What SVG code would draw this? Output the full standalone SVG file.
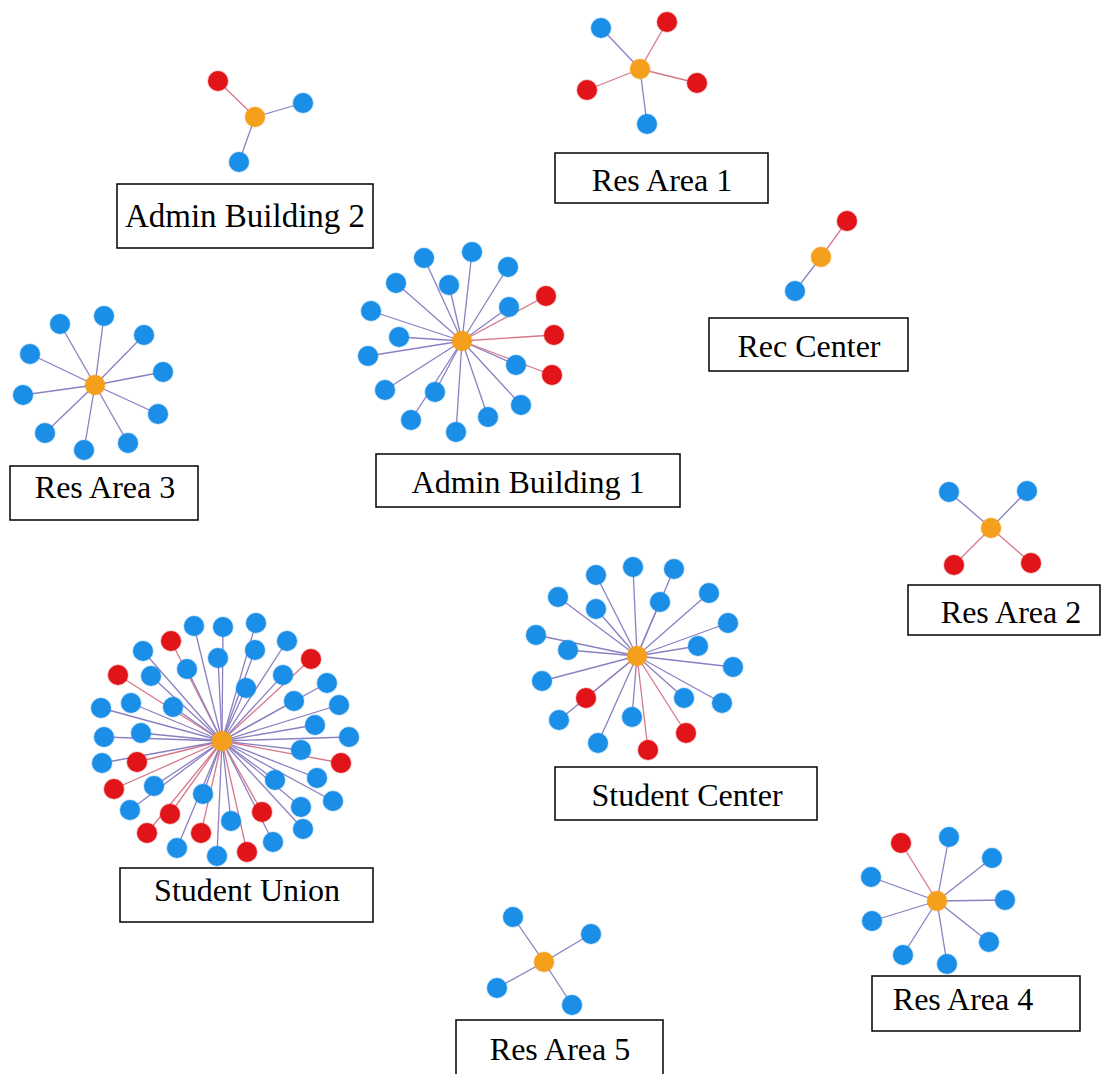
<svg xmlns="http://www.w3.org/2000/svg" width="1102" height="1074" viewBox="0 0 1102 1074">
<style>
.b{fill:#1b8fe8}
.r{fill:#e11419}
.o{fill:#f5a01c}
circle{stroke-width:1.5;stroke-opacity:0.25}
.b{stroke:#1b8fe8}
.r{stroke:#e11419}
.o{stroke:#f5a01c}
line{stroke-width:1.3}
.eb{stroke:#8a80c2}
.er{stroke:#d6788a}
.box{fill:#ffffff;stroke:#000000;stroke-width:1.5}
.lbl{font-family:"Liberation Serif","Times New Roman",serif;font-size:32px;fill:#000000;text-anchor:middle}
</style>
<rect width="1102" height="1074" fill="#ffffff"/>
<g id="connectors">
<!-- Admin Building 2 -->
<line class="er" x1="255" y1="117" x2="218" y2="81"/>
<line class="eb" x1="255" y1="117" x2="303" y2="103"/>
<line class="eb" x1="255" y1="117" x2="239" y2="162"/>
<!-- Res Area 1 -->
<line class="eb" x1="640" y1="69" x2="601" y2="28"/>
<line class="er" x1="640" y1="69" x2="667" y2="22"/>
<line class="er" x1="640" y1="69" x2="697" y2="83"/>
<line class="er" x1="640" y1="69" x2="587" y2="90"/>
<line class="eb" x1="640" y1="69" x2="647" y2="124"/>
<!-- Rec Center -->
<line class="er" x1="821" y1="257" x2="847" y2="221"/>
<line class="eb" x1="821" y1="257" x2="795" y2="291"/>
<!-- Res Area 3 -->
<line class="eb" x1="95" y1="385" x2="60" y2="324"/>
<line class="eb" x1="95" y1="385" x2="104" y2="316"/>
<line class="eb" x1="95" y1="385" x2="144" y2="335"/>
<line class="eb" x1="95" y1="385" x2="30" y2="354"/>
<line class="eb" x1="95" y1="385" x2="163" y2="372"/>
<line class="eb" x1="95" y1="385" x2="23" y2="395"/>
<line class="eb" x1="95" y1="385" x2="158" y2="414"/>
<line class="eb" x1="95" y1="385" x2="45" y2="433"/>
<line class="eb" x1="95" y1="385" x2="128" y2="443"/>
<line class="eb" x1="95" y1="385" x2="84" y2="450"/>
<!-- Admin Building 1 -->
<line class="eb" x1="462" y1="341" x2="424" y2="258"/>
<line class="eb" x1="462" y1="341" x2="472" y2="252"/>
<line class="eb" x1="462" y1="341" x2="508" y2="267"/>
<line class="eb" x1="462" y1="341" x2="396" y2="283"/>
<line class="eb" x1="462" y1="341" x2="449" y2="285"/>
<line class="er" x1="462" y1="341" x2="546" y2="296"/>
<line class="eb" x1="462" y1="341" x2="509" y2="307"/>
<line class="eb" x1="462" y1="341" x2="371" y2="311"/>
<line class="eb" x1="462" y1="341" x2="399" y2="337"/>
<line class="er" x1="462" y1="341" x2="554" y2="335"/>
<line class="eb" x1="462" y1="341" x2="368" y2="356"/>
<line class="eb" x1="462" y1="341" x2="516" y2="365"/>
<line class="er" x1="462" y1="341" x2="552" y2="375"/>
<line class="eb" x1="462" y1="341" x2="385" y2="390"/>
<line class="eb" x1="462" y1="341" x2="435" y2="392"/>
<line class="eb" x1="462" y1="341" x2="521" y2="405"/>
<line class="eb" x1="462" y1="341" x2="411" y2="420"/>
<line class="eb" x1="462" y1="341" x2="488" y2="417"/>
<line class="eb" x1="462" y1="341" x2="456" y2="432"/>
<!-- Res Area 2 -->
<line class="eb" x1="991" y1="528" x2="949" y2="492"/>
<line class="eb" x1="991" y1="528" x2="1027" y2="491"/>
<line class="er" x1="991" y1="528" x2="954" y2="565"/>
<line class="er" x1="991" y1="528" x2="1031" y2="563"/>
<!-- Student Center -->
<line class="eb" x1="637" y1="656" x2="596" y2="575"/>
<line class="eb" x1="637" y1="656" x2="633" y2="567"/>
<line class="eb" x1="637" y1="656" x2="674" y2="569"/>
<line class="eb" x1="637" y1="656" x2="558" y2="597"/>
<line class="eb" x1="637" y1="656" x2="596" y2="609"/>
<line class="eb" x1="637" y1="656" x2="660" y2="602"/>
<line class="eb" x1="637" y1="656" x2="709" y2="593"/>
<line class="eb" x1="637" y1="656" x2="728" y2="623"/>
<line class="eb" x1="637" y1="656" x2="536" y2="635"/>
<line class="eb" x1="637" y1="656" x2="568" y2="650"/>
<line class="eb" x1="637" y1="656" x2="698" y2="646"/>
<line class="eb" x1="637" y1="656" x2="733" y2="667"/>
<line class="eb" x1="637" y1="656" x2="542" y2="681"/>
<line class="er" x1="637" y1="656" x2="586" y2="698"/>
<line class="eb" x1="637" y1="656" x2="684" y2="698"/>
<line class="eb" x1="637" y1="656" x2="722" y2="703"/>
<line class="eb" x1="637" y1="656" x2="559" y2="720"/>
<line class="eb" x1="637" y1="656" x2="632" y2="717"/>
<line class="er" x1="637" y1="656" x2="686" y2="733"/>
<line class="eb" x1="637" y1="656" x2="598" y2="743"/>
<line class="er" x1="637" y1="656" x2="648" y2="750"/>
<!-- Student Union -->
<line class="eb" x1="222" y1="741" x2="194" y2="626"/>
<line class="eb" x1="222" y1="741" x2="223" y2="627"/>
<line class="eb" x1="222" y1="741" x2="256" y2="623"/>
<line class="er" x1="222" y1="741" x2="171" y2="641"/>
<line class="eb" x1="222" y1="741" x2="143" y2="651"/>
<line class="eb" x1="222" y1="741" x2="218" y2="658"/>
<line class="eb" x1="222" y1="741" x2="255" y2="650"/>
<line class="eb" x1="222" y1="741" x2="287" y2="641"/>
<line class="er" x1="222" y1="741" x2="311" y2="659"/>
<line class="eb" x1="222" y1="741" x2="187" y2="669"/>
<line class="eb" x1="222" y1="741" x2="151" y2="676"/>
<line class="er" x1="222" y1="741" x2="118" y2="675"/>
<line class="eb" x1="222" y1="741" x2="283" y2="675"/>
<line class="eb" x1="222" y1="741" x2="246" y2="688"/>
<line class="eb" x1="222" y1="741" x2="327" y2="683"/>
<line class="eb" x1="222" y1="741" x2="131" y2="703"/>
<line class="eb" x1="222" y1="741" x2="173" y2="707"/>
<line class="eb" x1="222" y1="741" x2="294" y2="701"/>
<line class="eb" x1="222" y1="741" x2="339" y2="705"/>
<line class="eb" x1="222" y1="741" x2="101" y2="708"/>
<line class="eb" x1="222" y1="741" x2="141" y2="733"/>
<line class="eb" x1="222" y1="741" x2="104" y2="737"/>
<line class="eb" x1="222" y1="741" x2="315" y2="725"/>
<line class="eb" x1="222" y1="741" x2="349" y2="737"/>
<line class="eb" x1="222" y1="741" x2="301" y2="750"/>
<line class="er" x1="222" y1="741" x2="137" y2="762"/>
<line class="eb" x1="222" y1="741" x2="102" y2="763"/>
<line class="er" x1="222" y1="741" x2="341" y2="763"/>
<line class="eb" x1="222" y1="741" x2="154" y2="786"/>
<line class="er" x1="222" y1="741" x2="114" y2="789"/>
<line class="eb" x1="222" y1="741" x2="275" y2="780"/>
<line class="eb" x1="222" y1="741" x2="317" y2="778"/>
<line class="eb" x1="222" y1="741" x2="203" y2="794"/>
<line class="eb" x1="222" y1="741" x2="130" y2="810"/>
<line class="eb" x1="222" y1="741" x2="333" y2="801"/>
<line class="eb" x1="222" y1="741" x2="301" y2="807"/>
<line class="er" x1="222" y1="741" x2="170" y2="814"/>
<line class="er" x1="222" y1="741" x2="262" y2="812"/>
<line class="eb" x1="222" y1="741" x2="231" y2="821"/>
<line class="eb" x1="222" y1="741" x2="303" y2="829"/>
<line class="er" x1="222" y1="741" x2="147" y2="833"/>
<line class="er" x1="222" y1="741" x2="201" y2="833"/>
<line class="eb" x1="222" y1="741" x2="273" y2="842"/>
<line class="eb" x1="222" y1="741" x2="177" y2="848"/>
<line class="er" x1="222" y1="741" x2="247" y2="852"/>
<line class="eb" x1="222" y1="741" x2="217" y2="856"/>
<!-- Res Area 4 -->
<line class="er" x1="937" y1="901" x2="901" y2="843"/>
<line class="eb" x1="937" y1="901" x2="949" y2="837"/>
<line class="eb" x1="937" y1="901" x2="992" y2="858"/>
<line class="eb" x1="937" y1="901" x2="871" y2="877"/>
<line class="eb" x1="937" y1="901" x2="1005" y2="900"/>
<line class="eb" x1="937" y1="901" x2="872" y2="921"/>
<line class="eb" x1="937" y1="901" x2="989" y2="942"/>
<line class="eb" x1="937" y1="901" x2="903" y2="955"/>
<line class="eb" x1="937" y1="901" x2="947" y2="964"/>
<!-- Res Area 5 -->
<line class="eb" x1="544" y1="962" x2="513" y2="917"/>
<line class="eb" x1="544" y1="962" x2="591" y2="934"/>
<line class="eb" x1="544" y1="962" x2="497" y2="988"/>
<line class="eb" x1="544" y1="962" x2="572" y2="1005"/>
</g>

<g id="admin-building-2">
<circle class="r" cx="218" cy="81" r="10"/>
<circle class="b" cx="303" cy="103" r="10"/>
<circle class="b" cx="239" cy="162" r="10"/>
<circle class="o" cx="255" cy="117" r="10"/>
<rect class="box" x="117" y="184" width="256" height="64"/>
<text class="lbl" x="245" y="227" style="font-size:33px">Admin Building 2</text>
</g>

<g id="res-area-1">
<circle class="b" cx="601" cy="28" r="10"/>
<circle class="r" cx="667" cy="22" r="10"/>
<circle class="r" cx="697" cy="83" r="10"/>
<circle class="r" cx="587" cy="90" r="10"/>
<circle class="b" cx="647" cy="124" r="10"/>
<circle class="o" cx="640" cy="69" r="10"/>
<rect class="box" x="555" y="153" width="213" height="50"/>
<text class="lbl" x="662" y="191">Res Area 1</text>
</g>

<g id="rec-center">
<circle class="r" cx="847" cy="221" r="10"/>
<circle class="b" cx="795" cy="291" r="10"/>
<circle class="o" cx="821" cy="257" r="10"/>
<rect class="box" x="709" y="318" width="199" height="53"/>
<text class="lbl" x="809" y="357">Rec Center</text>
</g>

<g id="res-area-3">
<circle class="b" cx="60" cy="324" r="10"/>
<circle class="b" cx="104" cy="316" r="10"/>
<circle class="b" cx="144" cy="335" r="10"/>
<circle class="b" cx="30" cy="354" r="10"/>
<circle class="b" cx="163" cy="372" r="10"/>
<circle class="b" cx="23" cy="395" r="10"/>
<circle class="b" cx="158" cy="414" r="10"/>
<circle class="b" cx="45" cy="433" r="10"/>
<circle class="b" cx="128" cy="443" r="10"/>
<circle class="b" cx="84" cy="450" r="10"/>
<circle class="o" cx="95" cy="385" r="10"/>
<rect class="box" x="10" y="466" width="188" height="54"/>
<text class="lbl" x="105" y="498">Res Area 3</text>
</g>

<g id="admin-building-1">
<circle class="b" cx="424" cy="258" r="10"/>
<circle class="b" cx="472" cy="252" r="10"/>
<circle class="b" cx="508" cy="267" r="10"/>
<circle class="b" cx="396" cy="283" r="10"/>
<circle class="b" cx="449" cy="285" r="10"/>
<circle class="r" cx="546" cy="296" r="10"/>
<circle class="b" cx="509" cy="307" r="10"/>
<circle class="b" cx="371" cy="311" r="10"/>
<circle class="b" cx="399" cy="337" r="10"/>
<circle class="r" cx="554" cy="335" r="10"/>
<circle class="b" cx="368" cy="356" r="10"/>
<circle class="b" cx="516" cy="365" r="10"/>
<circle class="r" cx="552" cy="375" r="10"/>
<circle class="b" cx="385" cy="390" r="10"/>
<circle class="b" cx="435" cy="392" r="10"/>
<circle class="b" cx="521" cy="405" r="10"/>
<circle class="b" cx="411" cy="420" r="10"/>
<circle class="b" cx="488" cy="417" r="10"/>
<circle class="b" cx="456" cy="432" r="10"/>
<circle class="o" cx="462" cy="341" r="10"/>
<rect class="box" x="376" y="454" width="304" height="53"/>
<text class="lbl" x="528" y="493">Admin Building 1</text>
</g>

<g id="res-area-2">
<circle class="b" cx="949" cy="492" r="10"/>
<circle class="b" cx="1027" cy="491" r="10"/>
<circle class="r" cx="954" cy="565" r="10"/>
<circle class="r" cx="1031" cy="563" r="10"/>
<circle class="o" cx="991" cy="528" r="10"/>
<rect class="box" x="908" y="585" width="192" height="50"/>
<text class="lbl" x="1011" y="623">Res Area 2</text>
</g>

<g id="student-center">
<circle class="b" cx="596" cy="575" r="10"/>
<circle class="b" cx="633" cy="567" r="10"/>
<circle class="b" cx="674" cy="569" r="10"/>
<circle class="b" cx="558" cy="597" r="10"/>
<circle class="b" cx="596" cy="609" r="10"/>
<circle class="b" cx="660" cy="602" r="10"/>
<circle class="b" cx="709" cy="593" r="10"/>
<circle class="b" cx="728" cy="623" r="10"/>
<circle class="b" cx="536" cy="635" r="10"/>
<circle class="b" cx="568" cy="650" r="10"/>
<circle class="b" cx="698" cy="646" r="10"/>
<circle class="b" cx="733" cy="667" r="10"/>
<circle class="b" cx="542" cy="681" r="10"/>
<circle class="r" cx="586" cy="698" r="10"/>
<circle class="b" cx="684" cy="698" r="10"/>
<circle class="b" cx="722" cy="703" r="10"/>
<circle class="b" cx="559" cy="720" r="10"/>
<circle class="b" cx="632" cy="717" r="10"/>
<circle class="r" cx="686" cy="733" r="10"/>
<circle class="b" cx="598" cy="743" r="10"/>
<circle class="r" cx="648" cy="750" r="10"/>
<circle class="o" cx="637" cy="656" r="10"/>
<rect class="box" x="555" y="767" width="262" height="53"/>
<text class="lbl" x="687" y="806">Student Center</text>
</g>

<g id="student-union">
<circle class="b" cx="194" cy="626" r="10"/>
<circle class="b" cx="223" cy="627" r="10"/>
<circle class="b" cx="256" cy="623" r="10"/>
<circle class="r" cx="171" cy="641" r="10"/>
<circle class="b" cx="143" cy="651" r="10"/>
<circle class="b" cx="218" cy="658" r="10"/>
<circle class="b" cx="255" cy="650" r="10"/>
<circle class="b" cx="287" cy="641" r="10"/>
<circle class="r" cx="311" cy="659" r="10"/>
<circle class="b" cx="187" cy="669" r="10"/>
<circle class="b" cx="151" cy="676" r="10"/>
<circle class="r" cx="118" cy="675" r="10"/>
<circle class="b" cx="283" cy="675" r="10"/>
<circle class="b" cx="246" cy="688" r="10"/>
<circle class="b" cx="327" cy="683" r="10"/>
<circle class="b" cx="131" cy="703" r="10"/>
<circle class="b" cx="173" cy="707" r="10"/>
<circle class="b" cx="294" cy="701" r="10"/>
<circle class="b" cx="339" cy="705" r="10"/>
<circle class="b" cx="101" cy="708" r="10"/>
<circle class="b" cx="141" cy="733" r="10"/>
<circle class="b" cx="104" cy="737" r="10"/>
<circle class="b" cx="315" cy="725" r="10"/>
<circle class="b" cx="349" cy="737" r="10"/>
<circle class="b" cx="301" cy="750" r="10"/>
<circle class="r" cx="137" cy="762" r="10"/>
<circle class="b" cx="102" cy="763" r="10"/>
<circle class="r" cx="341" cy="763" r="10"/>
<circle class="b" cx="154" cy="786" r="10"/>
<circle class="r" cx="114" cy="789" r="10"/>
<circle class="b" cx="275" cy="780" r="10"/>
<circle class="b" cx="317" cy="778" r="10"/>
<circle class="b" cx="203" cy="794" r="10"/>
<circle class="b" cx="130" cy="810" r="10"/>
<circle class="b" cx="333" cy="801" r="10"/>
<circle class="b" cx="301" cy="807" r="10"/>
<circle class="r" cx="170" cy="814" r="10"/>
<circle class="r" cx="262" cy="812" r="10"/>
<circle class="b" cx="231" cy="821" r="10"/>
<circle class="b" cx="303" cy="829" r="10"/>
<circle class="r" cx="147" cy="833" r="10"/>
<circle class="r" cx="201" cy="833" r="10"/>
<circle class="b" cx="273" cy="842" r="10"/>
<circle class="b" cx="177" cy="848" r="10"/>
<circle class="r" cx="247" cy="852" r="10"/>
<circle class="b" cx="217" cy="856" r="10"/>
<circle class="o" cx="222" cy="741" r="10"/>
<rect class="box" x="120" y="868" width="253" height="54"/>
<text class="lbl" x="247" y="901">Student Union</text>
</g>

<g id="res-area-4">
<circle class="r" cx="901" cy="843" r="10"/>
<circle class="b" cx="949" cy="837" r="10"/>
<circle class="b" cx="992" cy="858" r="10"/>
<circle class="b" cx="871" cy="877" r="10"/>
<circle class="b" cx="1005" cy="900" r="10"/>
<circle class="b" cx="872" cy="921" r="10"/>
<circle class="b" cx="989" cy="942" r="10"/>
<circle class="b" cx="903" cy="955" r="10"/>
<circle class="b" cx="947" cy="964" r="10"/>
<circle class="o" cx="937" cy="901" r="10"/>
<rect class="box" x="872" y="976" width="208" height="55"/>
<text class="lbl" x="963" y="1010">Res Area 4</text>
</g>

<g id="res-area-5">
<circle class="b" cx="513" cy="917" r="10"/>
<circle class="b" cx="591" cy="934" r="10"/>
<circle class="b" cx="497" cy="988" r="10"/>
<circle class="b" cx="572" cy="1005" r="10"/>
<circle class="o" cx="544" cy="962" r="10"/>
<rect class="box" x="456" y="1020" width="207" height="60"/>
<text class="lbl" x="560" y="1060">Res Area 5</text>
</g>
</svg>
